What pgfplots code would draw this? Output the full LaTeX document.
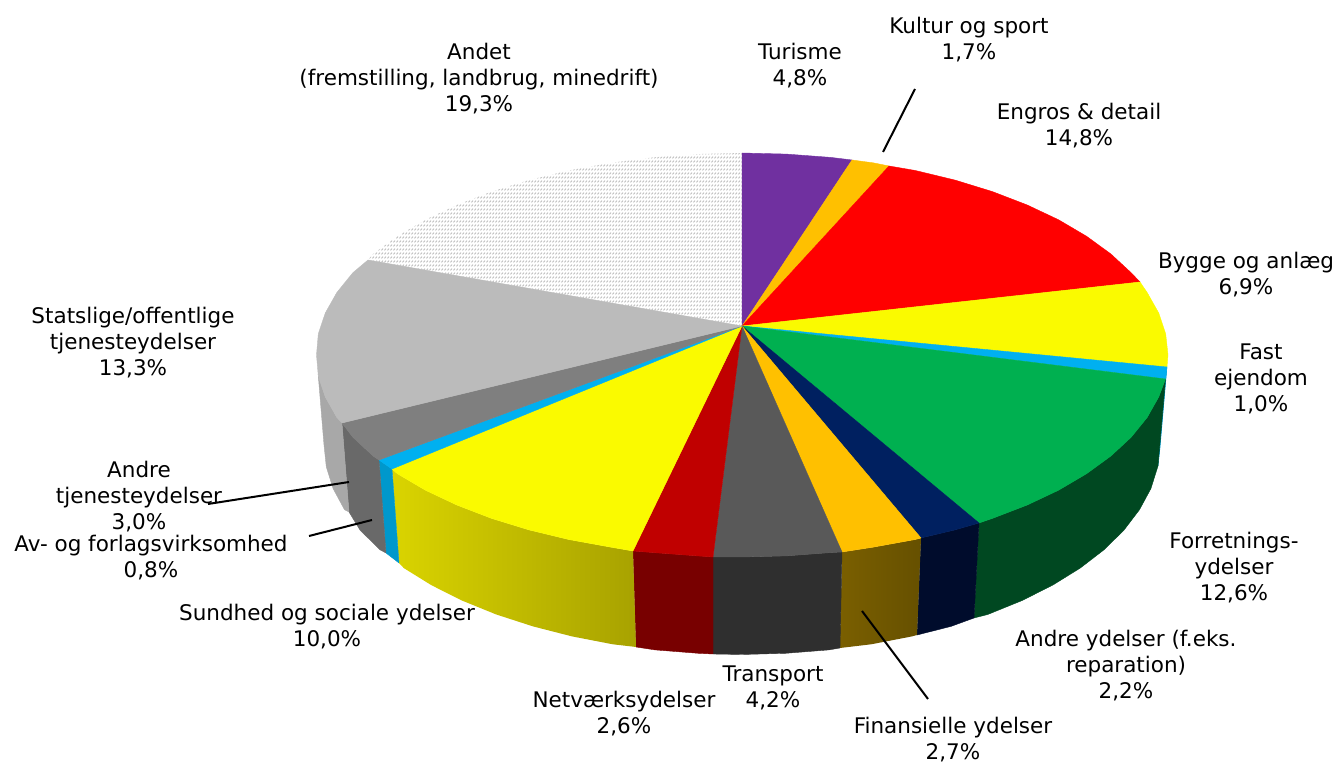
\documentclass[border=0pt]{standalone}
\usepackage{pgfplots}
\pgfplotsset{compat=1.18}
\usepackage{fontspec}
\setmainfont{DejaVu Sans}
\usetikzlibrary{patterns}
\pgfdeclarepatternformonly{andetpat}{\pgfqpoint{-0.2pt}{-0.2pt}}{\pgfqpoint{1.7pt}{2.2pt}}{\pgfqpoint{1.5pt}{2pt}}{
  \pgfsetlinewidth{0.45pt}
  \pgfpathmoveto{\pgfqpoint{0.2pt}{0.3pt}}
  \pgfpathlineto{\pgfqpoint{1.0pt}{1.2pt}}
  \pgfusepath{stroke}
}
\definecolor{cTur}{HTML}{7030A0}
\definecolor{cKul}{HTML}{FFC000}
\definecolor{cEng}{HTML}{FF0000}
\definecolor{cYel}{HTML}{FAFA00}
\definecolor{cBlu}{HTML}{00B0F0}
\definecolor{cBluS}{HTML}{0098CC}
\definecolor{cGre}{HTML}{00B050}
\definecolor{cGreS}{HTML}{004821}
\definecolor{cNav}{HTML}{002060}
\definecolor{cNavS}{HTML}{000C2C}
\definecolor{cFinL}{HTML}{7A5F00}
\definecolor{cFinR}{HTML}{665000}
\definecolor{cTra}{HTML}{595959}
\definecolor{cTraS}{HTML}{2F2F2F}
\definecolor{cNet}{HTML}{C00000}
\definecolor{cNetS}{HTML}{780000}
\definecolor{cSunL}{HTML}{DAD400}
\definecolor{cSunR}{HTML}{A8A200}
\definecolor{cAnt}{HTML}{7F7F7F}
\definecolor{cAntS}{HTML}{696969}
\definecolor{cSta}{HTML}{BBBBBB}
\definecolor{cStaS}{HTML}{A8A8A8}
\tikzset{lab/.style={align=center,font=\fontsize{10.75}{13}\selectfont,text=black,inner sep=0pt}}
\begin{document}
\begin{tikzpicture}
\path[use as bounding box] (0,0) rectangle (667.5pt,381.5pt);
\begin{axis}[
  scale only axis, width=667.5pt, height=381.5pt,
  xmin=0, xmax=1335, ymin=0, ymax=763, y dir=reverse,
  axis lines=none, clip=false]
% side walls
\addplot[fill=cBluS,draw=cBluS,line width=0.2pt] coordinates {(1167,367)(1165.5,379)(1158,466)(1160,448)} --cycle;
\addplot[fill=cGreS,draw=cGreS,line width=0.2pt] coordinates {(1165.5,379)(1158.7,397)(1147.2,417.4)(1131.2,437.2)(1110.9,456)(1086.6,473.7)(1058.6,490.2)(1027,505.1)(992.4,518.4)(979,523)(974,618)(987.7,614.5)(1021.7,600.7)(1052.6,585.2)(1080.2,568.1)(1104,549.8)(1123.9,530.2)(1139.5,509.7)(1150.9,488.6)(1158,466)} --cycle;
\addplot[fill=cNavS,draw=cNavS,line width=0.2pt] coordinates {(979,523)(955,529.9)(921,538)(917,635)(951,626.4)(974,618)} --cycle;
\addplot[draw=none,left color=cFinL,right color=cFinR] coordinates {(921,538)(915.3,539.5)(873.6,547.1)(842,552)(840,648)(871.2,644.3)(912,636.4)(917,635)} --cycle;
\addplot[fill=cTraS,draw=cTraS,line width=0.2pt] coordinates {(842,552)(830.6,552.6)(786.5,555.9)(742,557)(713,557)(713,654)(742,654.5)(785.7,653.3)(828.9,649.9)(840,648)} --cycle;
\addplot[fill=cNetS,draw=cNetS,line width=0.2pt] coordinates {(713,557)(697.5,555.9)(653.4,552.6)(633,551)(636,647)(655.1,649.9)(698.3,653.3)(713,654)} --cycle;
\addplot[draw=none,left color=cSunL,right color=cSunR] coordinates {(633,551)(610.4,547.1)(568.7,539.5)(529,529.9)(491.6,518.4)(457,505.1)(425.4,490.2)(397.4,473.7)(392,469)(399,563)(403.8,568.1)(431.4,585.2)(462.3,600.7)(496.3,614.5)(533,626.4)(572,636.4)(612.8,644.3)(636,647)} --cycle;
\addplot[fill=cBluS,draw=cBluS,line width=0.2pt] coordinates {(392,469)(379,460)(386,553)(399,563)} --cycle;
\addplot[fill=cAntS,draw=cAntS,line width=0.2pt] coordinates {(379,460)(373.1,456)(352.8,437.2)(342,423)(349,512)(360.1,530.2)(380,549.8)(386,553)} --cycle;
\addplot[fill=cStaS,draw=cStaS,line width=0.2pt] coordinates {(342,423)(336.8,417.4)(325.3,397)(318.3,376.1)(324,445)(326.3,466.9)(333.1,488.6)(344.5,509.7)(349,512)} --cycle;
% top wedges
\addplot[fill=white,draw=none] coordinates {(742,326)(368,260)(373.1,254)(397.4,236.3)(425.4,219.8)(457,204.9)(491.6,191.6)(529,180.1)(568.7,170.5)(610.4,162.9)(653.4,157.4)(697.5,154.1)(742,153)} --cycle;
\addplot[draw=none,pattern=andetpat,pattern color=black!25] coordinates {(742,326)(368,260)(373.1,254)(397.4,236.3)(425.4,219.8)(457,204.9)(491.6,191.6)(529,180.1)(568.7,170.5)(610.4,162.9)(653.4,157.4)(697.5,154.1)(742,153)} --cycle;
\addplot[fill=cTur,draw=cTur,line width=0.2pt] coordinates {(742,326)(742,153)(786.5,154.1)(830.6,157.4)(852,160)} --cycle;
\addplot[fill=cKul,draw=cKul,line width=0.2pt] coordinates {(742,326)(852,160)(873.6,162.9)(889,166)} --cycle;
\addplot[fill=cEng,draw=cEng,line width=0.2pt] coordinates {(742,326)(889,166)(915.3,170.5)(955,180.1)(992.4,191.6)(1027,204.9)(1058.6,219.8)(1086.6,236.3)(1110.9,254)(1131.2,272.8)(1140,282)} --cycle;
\addplot[fill=cYel,draw=cYel,line width=0.2pt] coordinates {(742,326)(1140,282)(1147.2,292.6)(1158.7,313)(1165.7,333.9)(1168,355)(1167,367)} --cycle;
\addplot[fill=cBlu,draw=cBlu,line width=0.2pt] coordinates {(742,326)(1167,367)(1165.5,379)} --cycle;
\addplot[fill=cGre,draw=cGre,line width=0.2pt] coordinates {(742,326)(1165.5,379)(1158.7,397)(1147.2,417.4)(1131.2,437.2)(1110.9,456)(1086.6,473.7)(1058.6,490.2)(1027,505.1)(992.4,518.4)(979,523)} --cycle;
\addplot[fill=cNav,draw=cNav,line width=0.2pt] coordinates {(742,326)(979,523)(955,529.9)(921,538)} --cycle;
\addplot[fill=cKul,draw=cKul,line width=0.2pt] coordinates {(742,326)(921,538)(915.3,539.5)(873.6,547.1)(842,552)} --cycle;
\addplot[fill=cTra,draw=cTra,line width=0.2pt] coordinates {(742,326)(842,552)(830.6,552.6)(786.5,555.9)(742,557)(713,557)} --cycle;
\addplot[fill=cNet,draw=cNet,line width=0.2pt] coordinates {(742,326)(713,557)(697.5,555.9)(653.4,552.6)(633,551)} --cycle;
\addplot[fill=cYel,draw=cYel,line width=0.2pt] coordinates {(742,326)(633,551)(610.4,547.1)(568.7,539.5)(529,529.9)(491.6,518.4)(457,505.1)(425.4,490.2)(397.4,473.7)(392,469)} --cycle;
\addplot[fill=cBlu,draw=cBlu,line width=0.2pt] coordinates {(742,326)(392,469)(379,460)} --cycle;
\addplot[fill=cAnt,draw=cAnt,line width=0.2pt] coordinates {(742,326)(379,460)(373.1,456)(352.8,437.2)(342,423)} --cycle;
\addplot[fill=cSta,draw=cSta,line width=0.2pt] coordinates {(742,326)(342,423)(336.8,417.4)(325.3,397)(318.3,376.1)(316.5,355)(318.3,333.9)(325.3,313)(336.8,292.6)(352.8,272.8)(368,260)} --cycle;
% leader lines
\addplot[black,line width=1pt] coordinates {(915,89)(883,152)};
\addplot[black,line width=1pt] coordinates {(208,504)(349,482)};
\addplot[black,line width=1pt] coordinates {(309,536)(372,520)};
\addplot[black,line width=1pt] coordinates {(862,611)(928,699)};
% labels
\node[lab] at (axis cs:479,79) {Andet\\(fremstilling, landbrug, minedrift)\\19,3\%};
\node[lab] at (axis cs:800,66) {Turisme\\4,8\%};
\node[lab] at (axis cs:969,40) {Kultur og sport\\1,7\%};
\node[lab] at (axis cs:1079,126) {Engros \& detail\\14,8\%};
\node[lab] at (axis cs:1246,275) {Bygge og anlæg\\6,9\%};
\node[lab] at (axis cs:1261,379) {Fast\\ejendom\\1,0\%};
\node[lab] at (axis cs:1234,568) {Forretnings-\\ydelser\\12,6\%};
\node[lab] at (axis cs:1126,666) {Andre ydelser (f.eks.\\reparation)\\2,2\%};
\node[lab] at (axis cs:953,740) {Finansielle ydelser\\2,7\%};
\node[lab] at (axis cs:773,688) {Transport\\4,2\%};
\node[lab] at (axis cs:624,714) {Netværksydelser\\2,6\%};
\node[lab] at (axis cs:327,627) {Sundhed og sociale ydelser\\10,0\%};
\node[lab] at (axis cs:151,558) {Av- og forlagsvirksomhed\\0,8\%};
\node[lab] at (axis cs:139,497) {Andre\\tjenesteydelser\\3,0\%};
\node[lab] at (axis cs:133,343) {Statslige/offentlige\\tjenesteydelser\\13,3\%};
\end{axis}
\end{tikzpicture}
\end{document}
